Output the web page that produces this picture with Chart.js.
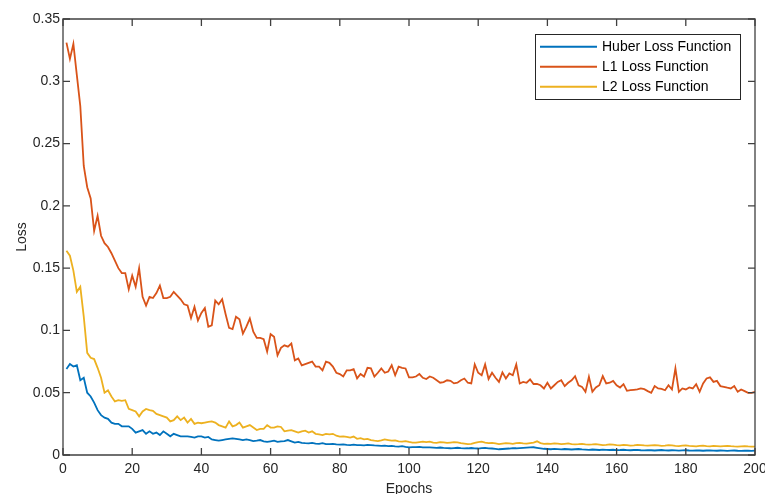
<!DOCTYPE html>
<html>
<head>
<meta charset="utf-8">
<script src="https://cdn.jsdelivr.net/npm/chart.js@4/dist/chart.umd.min.js"></script>
<style>
  html, body { margin: 0; padding: 0; background: #fff; }
  canvas { display: block; }
</style>
</head>
<body>
<canvas id="c" width="765" height="494"></canvas>
<script>
// ---- data ----
const seriesNames = ["Huber Loss Function", "L1 Loss Function", "L2 Loss Function"];
const xTickLabels = ["0","20","40","60","80","100","120","140","160","180","200"];
const yTickLabels = ["0","0.05","0.1","0.15","0.2","0.25","0.3","0.35"];

const l1Loss = [
0.331,0.318,0.330,0.305,0.280,0.232,0.215,0.206,0.180,0.192,
0.176,0.170,0.167,0.162,0.156,0.150,0.146,0.146,0.133,0.144,
0.135,0.150,0.127,0.120,0.127,0.126,0.130,0.136,0.126,0.126,
0.127,0.131,0.128,0.125,0.121,0.120,0.110,0.119,0.108,0.114,
0.118,0.103,0.104,0.124,0.121,0.125,0.113,0.102,0.101,0.111,
0.109,0.0975,0.103,0.1095,0.099,0.094,0.094,0.093,0.083,0.097,
0.095,0.080,0.086,0.088,0.087,0.0895,0.076,0.0775,0.072,0.073,
0.074,0.075,0.071,0.071,0.068,0.075,0.074,0.071,0.066,0.065,
0.063,0.068,0.068,0.069,0.0615,0.065,0.063,0.070,0.0695,0.063,
0.066,0.0695,0.066,0.067,0.072,0.064,0.071,0.070,0.0695,0.0623,
0.0623,0.063,0.065,0.062,0.061,0.063,0.062,0.060,0.058,0.0585,
0.060,0.0595,0.0575,0.058,0.060,0.0614,0.058,0.0574,0.0727,0.066,
0.064,0.0727,0.061,0.066,0.062,0.0587,0.0663,0.0614,0.0655,0.064,
0.0727,0.0574,0.0587,0.058,0.0607,0.057,0.057,0.056,0.0534,0.058,
0.0534,0.056,0.0587,0.060,0.0553,0.058,0.060,0.0633,0.056,0.0547,
0.0507,0.0628,0.0507,0.0542,0.056,0.0633,0.0574,0.058,0.0595,0.056,
0.0542,0.0569,0.0515,0.052,0.0523,0.0526,0.0534,0.0528,0.0513,0.0499,
0.0553,0.0534,0.053,0.052,0.056,0.0526,0.0695,0.0507,0.0534,0.0526,
0.0542,0.0534,0.0569,0.0507,0.0574,0.0614,0.0623,0.0587,0.0595,0.0553,
0.0547,0.054,0.0534,0.0553,0.0507,0.0526,0.0513,0.0499,0.0499,0.0507
];

const l2Loss = [
0.164,0.160,0.148,0.131,0.135,0.111,0.082,0.078,0.077,0.070,
0.062,0.050,0.052,0.047,0.043,0.044,0.0435,0.044,0.037,0.036,
0.035,0.031,0.035,0.037,0.036,0.0355,0.033,0.032,0.031,0.030,
0.027,0.028,0.031,0.028,0.030,0.026,0.029,0.025,0.026,0.0255,
0.026,0.0265,0.027,0.026,0.024,0.023,0.022,0.027,0.023,0.024,
0.026,0.022,0.023,0.024,0.022,0.020,0.021,0.021,0.024,0.022,
0.022,0.023,0.0225,0.019,0.0195,0.020,0.019,0.018,0.019,0.0195,
0.018,0.019,0.017,0.0165,0.016,0.017,0.0165,0.017,0.0155,0.0147,
0.015,0.0145,0.014,0.0148,0.013,0.0135,0.0125,0.013,0.012,0.0115,
0.0112,0.0118,0.0125,0.012,0.0115,0.0118,0.011,0.0107,0.0112,0.0105,
0.0100,0.0099,0.0104,0.0108,0.0103,0.0107,0.0100,0.0098,0.0104,0.0102,
0.0097,0.0100,0.0103,0.0102,0.0095,0.0092,0.0088,0.0090,0.0098,0.0104,
0.0107,0.0100,0.0096,0.0098,0.0094,0.0088,0.0092,0.0096,0.0093,0.0090,
0.0095,0.0097,0.0094,0.0092,0.0096,0.0100,0.0110,0.0095,0.0090,0.0092,
0.0089,0.0093,0.0091,0.0087,0.0090,0.0093,0.0088,0.0085,0.0087,0.0090,
0.0086,0.0083,0.0085,0.0088,0.0084,0.0080,0.0082,0.0086,0.0083,0.0080,
0.0078,0.0081,0.0079,0.0076,0.0078,0.0082,0.0080,0.0077,0.0075,0.0078,
0.0080,0.0077,0.0074,0.0076,0.0079,0.0077,0.0074,0.0072,0.0075,0.0077,
0.0074,0.0072,0.0070,0.0073,0.0075,0.0072,0.0070,0.0073,0.0071,0.0069,
0.0072,0.0074,0.0071,0.0069,0.0068,0.0070,0.0072,0.0069,0.0067,0.0068
];

const huberLoss = [
0.069,0.073,0.071,0.072,0.060,0.062,0.050,0.047,0.042,0.036,
0.032,0.030,0.029,0.026,0.025,0.025,0.023,0.023,0.023,0.021,
0.018,0.019,0.020,0.017,0.019,0.017,0.018,0.016,0.019,0.017,
0.015,0.017,0.016,0.015,0.015,0.015,0.0145,0.014,0.015,0.015,
0.014,0.0145,0.0125,0.012,0.0115,0.012,0.0125,0.013,0.0134,0.013,
0.0125,0.012,0.0125,0.012,0.0112,0.0115,0.012,0.011,0.0105,0.011,
0.0115,0.0105,0.011,0.0112,0.012,0.011,0.010,0.0105,0.0098,0.0095,
0.0094,0.0098,0.0092,0.009,0.0095,0.0088,0.0088,0.009,0.0085,0.0083,
0.0086,0.0082,0.008,0.0083,0.0079,0.008,0.0078,0.0081,0.008,0.0077,
0.0075,0.0073,0.0076,0.0072,0.0074,0.007,0.0068,0.0071,0.0066,0.0062,
0.0064,0.0063,0.0065,0.0061,0.0062,0.0062,0.006,0.0058,0.006,0.0057,
0.0055,0.0054,0.0056,0.0058,0.0055,0.0053,0.0054,0.0056,0.0054,0.0052,
0.0055,0.0057,0.0054,0.0052,0.005,0.0046,0.0048,0.005,0.0052,0.0055,
0.0054,0.0056,0.0058,0.006,0.0061,0.0062,0.0058,0.0054,0.005,0.0048,
0.0046,0.0049,0.0047,0.0045,0.0048,0.0046,0.0044,0.0046,0.0048,0.0045,
0.0043,0.0041,0.0044,0.0042,0.004,0.0043,0.0041,0.004,0.0042,0.0039,
0.004,0.0042,0.0039,0.0038,0.004,0.0041,0.0038,0.0037,0.0039,0.0038,
0.0036,0.0038,0.004,0.0037,0.0036,0.0038,0.0037,0.0035,0.0037,0.0038,
0.0036,0.0035,0.0037,0.0036,0.0034,0.0036,0.0037,0.0035,0.0034,0.0036,
0.0035,0.0033,0.0035,0.0036,0.0034,0.0033,0.0035,0.0034,0.0033,0.0035
];

const epochs = l1Loss.map((_, i) => i + 1);
const colors = ["#0072BD", "#D95319", "#EDB120"];
const FONT = "'Liberation Sans', Arial, Helvetica, sans-serif";
const TXT = "#262626";

function toPoints(arr) { return arr.map((v, i) => ({ x: epochs[i], y: v })); }

const seriesData = [huberLoss, l1Loss, l2Loss];

// ---- box with inward ticks + legend ----
const boxPlugin = {
  id: 'matlabBox',
  afterDatasetsDraw(chart) {
    const { ctx, chartArea: a, scales } = chart;
    const xs = scales.x, ys = scales.y;
    const tl = 7;
    ctx.save();
    ctx.strokeStyle = "#404040";
    ctx.lineWidth = 1.3;
    ctx.beginPath();
    ctx.rect(a.left, a.top, a.right - a.left, a.bottom - a.top);
    ctx.stroke();
    ctx.beginPath();
    xs.ticks.forEach(t => {
      const px = xs.getPixelForValue(t.value);
      ctx.moveTo(px, a.bottom); ctx.lineTo(px, a.bottom - tl);
      ctx.moveTo(px, a.top); ctx.lineTo(px, a.top + tl);
    });
    ys.ticks.forEach(t => {
      const py = ys.getPixelForValue(t.value);
      ctx.moveTo(a.left, py); ctx.lineTo(a.left + tl, py);
      ctx.moveTo(a.right, py); ctx.lineTo(a.right - tl, py);
    });
    ctx.stroke();

    // legend
    const lx = 535.5, ly = 34.5, lw = 205, lh = 65;
    ctx.fillStyle = "#fff";
    ctx.fillRect(lx, ly, lw, lh);
    ctx.strokeStyle = "#262626";
    ctx.lineWidth = 1;
    ctx.strokeRect(lx, ly, lw, lh);
    ctx.font = "14px " + FONT;
    ctx.textBaseline = "middle";
    ctx.textAlign = "left";
    chart.data.datasets.forEach((ds, i) => {
      const yy = 46.7 + i * 20;
      ctx.strokeStyle = ds.borderColor;
      ctx.lineWidth = 2;
      ctx.beginPath();
      ctx.moveTo(540, yy); ctx.lineTo(597, yy);
      ctx.stroke();
      ctx.fillStyle = "#000";
      ctx.fillText(ds.label, 602, yy + 0.5);
    });
    ctx.restore();
  }
};

new Chart(document.getElementById('c'), {
  type: 'line',
  data: {
    datasets: seriesNames.map((name, i) => ({
      label: name,
      data: toPoints(seriesData[i]),
      borderColor: colors[i],
      backgroundColor: colors[i],
      borderWidth: 1.8,
      pointRadius: 0,
      tension: 0,
      fill: false
    }))
  },
  options: {
    responsive: false,
    animation: false,
    devicePixelRatio: 1,
    layout: { padding: { top: 19, right: 10, bottom: 0, left: 0 } },
    plugins: { legend: { display: false }, tooltip: { enabled: false } },
    scales: {
      x: {
        type: 'linear',
        min: 0, max: 200,
        afterBuildTicks(s) { s.ticks = xTickLabels.map(l => ({ value: Number(l) })); },
        ticks: {
          autoSkip: false, maxRotation: 0, padding: 6,
          color: TXT, font: { family: FONT, size: 14 },
          callback: (v, i) => xTickLabels[i]
        },
        grid: { display: false, drawTicks: false },
        border: { display: false },
        title: {
          display: true, text: 'Epochs', color: TXT,
          font: { family: FONT, size: 14, lineHeight: 1.2 },
          padding: { top: 0, bottom: -4 }
        },
        afterFit(s) { s.height = 39; s.paddingLeft = 0; s.paddingRight = 0; }
      },
      y: {
        min: 0, max: 0.35,
        afterBuildTicks(s) { s.ticks = yTickLabels.map(l => ({ value: Number(l) })); },
        ticks: {
          autoSkip: false, padding: 3,
          color: TXT, font: { family: FONT, size: 14 },
          callback: (v, i) => yTickLabels[i]
        },
        grid: { display: false, drawTicks: false },
        border: { display: false },
        title: {
          display: true, text: 'Loss', color: TXT,
          font: { family: FONT, size: 14, lineHeight: 1.2 },
          padding: { top: 14, bottom: 0 }
        },
        afterFit(s) { s.width = 63; s.paddingTop = 0; s.paddingBottom = 0; }
      }
    }
  },
  plugins: [boxPlugin]
});
</script>
</body>
</html>
